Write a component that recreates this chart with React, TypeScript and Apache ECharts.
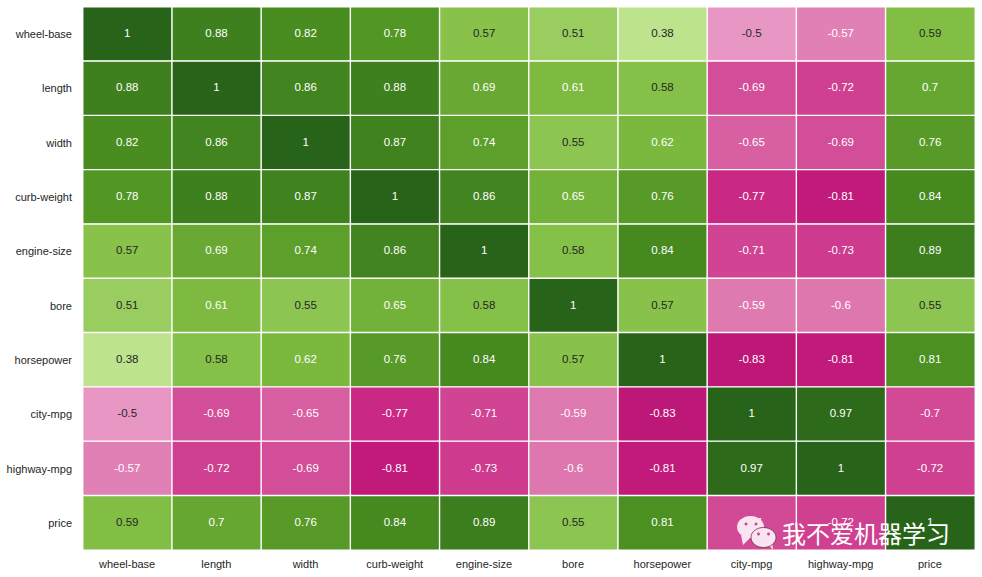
import React, { useEffect, useRef } from "react";
import * as echarts from "echarts";

const categories = ["wheel-base", "length", "width", "curb-weight", "engine-size", "bore", "horsepower", "city-mpg", "highway-mpg", "price"];

const rowWheelBase = [1, 0.88, 0.82, 0.78, 0.57, 0.51, 0.38, -0.5, -0.57, 0.59];
const rowLength = [0.88, 1, 0.86, 0.88, 0.69, 0.61, 0.58, -0.69, -0.72, 0.7];
const rowWidth = [0.82, 0.86, 1, 0.87, 0.74, 0.55, 0.62, -0.65, -0.69, 0.76];
const rowCurbWeight = [0.78, 0.88, 0.87, 1, 0.86, 0.65, 0.76, -0.77, -0.81, 0.84];
const rowEngineSize = [0.57, 0.69, 0.74, 0.86, 1, 0.58, 0.84, -0.71, -0.73, 0.89];
const rowBore = [0.51, 0.61, 0.55, 0.65, 0.58, 1, 0.57, -0.59, -0.6, 0.55];
const rowHorsepower = [0.38, 0.58, 0.62, 0.76, 0.84, 0.57, 1, -0.83, -0.81, 0.81];
const rowCityMpg = [-0.5, -0.69, -0.65, -0.77, -0.71, -0.59, -0.83, 1, 0.97, -0.7];
const rowHighwayMpg = [-0.57, -0.72, -0.69, -0.81, -0.73, -0.6, -0.81, 0.97, 1, -0.72];
const rowPrice = [0.59, 0.7, 0.76, 0.84, 0.89, 0.55, 0.81, -0.7, -0.72, 1];

const rows = [rowWheelBase, rowLength, rowWidth, rowCurbWeight, rowEngineSize, rowBore, rowHorsepower, rowCityMpg, rowHighwayMpg, rowPrice];

const piyg = ["#8e0152", "#c51b7d", "#de77ae", "#f1b6da", "#fde0ef", "#f7f7f7", "#e6f5d0", "#b8e186", "#7fbc41", "#4d9221", "#276419"];

const FONT = '"Liberation Sans", Arial, sans-serif';
const DARK = "#262626";
const WHITE = "#ffffff";
const BUBBLE = "#f9e4f1";
const EYE = "#c9488f";
const TOP = 100;

const cells = rows.flatMap((row, r) =>
  row.map((v, c) => ({
    value: [c, r, v],
    label: { color: v >= -0.5 && v < 0.6 ? DARK : WHITE },
  }))
);

export default function App() {
  const ref = useRef<HTMLDivElement>(null);
  useEffect(() => {
    const chart = echarts.init(ref.current!, null, { renderer: "svg" });
    const axisBase = {
      type: "category" as const,
      data: categories,
      axisLine: { show: false },
      axisTick: { show: false },
      splitLine: { show: false },
    };
    chart.setOption({
      animation: false,
      backgroundColor: "#ffffff",
      grid: { left: 83, top: 7, width: 892, height: 543 },
      xAxis: {
        ...axisBase,
        axisLabel: { fontFamily: FONT, fontSize: 11, color: DARK, margin: 8, interval: 0, padding: [0, 1, 0, 0] },
      },
      yAxis: {
        ...axisBase,
        inverse: true,
        axisLabel: { fontFamily: FONT, fontSize: 11, color: DARK, margin: 11, interval: 0, padding: [0, 0, 2, 0] },
      },
      visualMap: {
        show: false,
        min: -1,
        max: 1,
        dimension: 2,
        inRange: { color: piyg },
      },
      series: [
        {
          type: "heatmap",
          data: cells,
          itemStyle: { borderColor: "#ffffff", borderWidth: 1.4 },
          label: {
            show: true,
            fontFamily: FONT,
            fontSize: 11.5,
            offset: [-0.3, -1],
            formatter: (p: any) => String(p.value[2]),
          },
        },
      ],
      graphic: {
        elements: [
          { type: "polygon", z: TOP, shape: { points: [[741, 535], [743, 545], [751, 537]] }, style: { fill: BUBBLE } },
          { type: "ellipse", z: TOP, shape: { cx: 750.5, cy: 527, rx: 13.5, ry: 11 }, style: { fill: BUBBLE } },
          { type: "circle", z: TOP, shape: { cx: 746, cy: 524, r: 1.5 }, style: { fill: EYE } },
          { type: "circle", z: TOP, shape: { cx: 756, cy: 524, r: 1.5 }, style: { fill: EYE } },
          { type: "polygon", z: TOP, shape: { points: [[767, 543], [773, 550], [772, 540]] }, style: { fill: BUBBLE } },
          {
            type: "ellipse",
            z: TOP,
            shape: { cx: 763.5, cy: 537.5, rx: 12.5, ry: 10 },
            style: { fill: BUBBLE, stroke: "#6b2a52", lineWidth: 0.8 },
          },
          { type: "circle", z: TOP, shape: { cx: 758.5, cy: 534, r: 1.5 }, style: { fill: EYE } },
          { type: "circle", z: TOP, shape: { cx: 768.5, cy: 534, r: 1.5 }, style: { fill: EYE } },
          {
            type: "text",
            z: TOP,
            x: 782,
            y: 532.5,
            style: {
              text: "我不爱机器学习",
              fontFamily: '"Noto Sans CJK SC", sans-serif',
              fontSize: 24,
              fill: "#ffffff",
              verticalAlign: "middle",
              shadowColor: "rgba(30,30,30,0.8)",
              shadowBlur: 1,
              shadowOffsetX: 1,
              shadowOffsetY: 1,
            },
          },
        ],
      },
    });
    return () => chart.dispose();
  }, []);
  return <div ref={ref} style={{ position: "fixed", left: 0, top: 0, width: 982, height: 577 }} />;
}
